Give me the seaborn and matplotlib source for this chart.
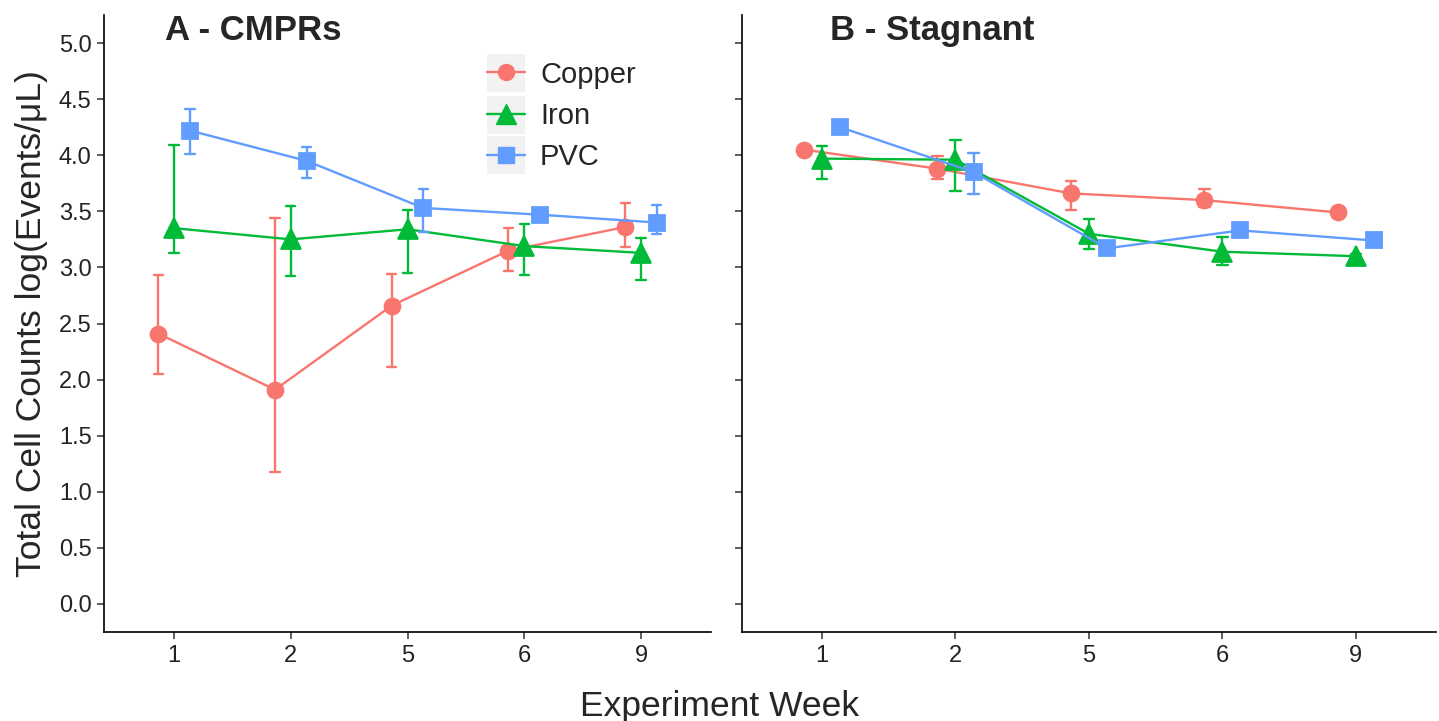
import pandas as pd
import numpy as np
import matplotlib
matplotlib.use("Agg")
import matplotlib.pyplot as plt
from matplotlib.patches import Rectangle
from matplotlib.lines import Line2D
import seaborn as sns

# weeks shown on the x axis (categorical)
weeks = ["1", "2", "5", "6", "9"]
materials = ["Copper", "Iron", "PVC"]
palette = {"Copper": "#F8766D", "Iron": "#00BA38", "PVC": "#619CFF"}

# A - CMPRs : mean, lower and upper error values
cmpr_copper = [2.41, 1.91, 2.66, 3.15, 3.36]
cmpr_copper_lo = [2.05, 1.18, 2.11, 2.97, 3.18]
cmpr_copper_hi = [2.93, 3.44, 2.94, 3.35, 3.57]
cmpr_iron = [3.35, 3.25, 3.34, 3.19, 3.13]
cmpr_iron_lo = [3.13, 2.92, 2.95, 2.93, 2.89]
cmpr_iron_hi = [4.09, 3.55, 3.51, 3.39, 3.26]
cmpr_pvc = [4.22, 3.95, 3.53, 3.47, 3.40]
cmpr_pvc_lo = [4.01, 3.80, 3.32, 3.45, 3.30]
cmpr_pvc_hi = [4.41, 4.07, 3.70, 3.49, 3.56]

# B - Stagnant
stag_copper = [4.05, 3.88, 3.66, 3.60, 3.49]
stag_copper_lo = [4.03, 3.79, 3.51, 3.54, 3.45]
stag_copper_hi = [4.07, 3.99, 3.77, 3.70, 3.53]
stag_iron = [3.97, 3.96, 3.30, 3.14, 3.10]
stag_iron_lo = [3.79, 3.68, 3.16, 3.02, 3.08]
stag_iron_hi = [4.08, 4.14, 3.43, 3.27, 3.12]
stag_pvc = [4.25, 3.85, 3.17, 3.33, 3.24]
stag_pvc_lo = [4.23, 3.65, 3.15, 3.31, 3.22]
stag_pvc_hi = [4.27, 4.02, 3.19, 3.35, 3.26]


def make_df(series):
    # three rows per point: lower, mean, upper -> median gives the mean, min/max the bars
    rows = []
    for mat, (mid, lo, hi) in series.items():
        for w, m, l, h in zip(weeks, mid, lo, hi):
            for v in (l, m, h):
                rows.append({"week": w, "material": mat, "value": v})
    return pd.DataFrame(rows)


df_a = make_df({"Copper": (cmpr_copper, cmpr_copper_lo, cmpr_copper_hi),
                "Iron": (cmpr_iron, cmpr_iron_lo, cmpr_iron_hi),
                "PVC": (cmpr_pvc, cmpr_pvc_lo, cmpr_pvc_hi)})
df_b = make_df({"Copper": (stag_copper, stag_copper_lo, stag_copper_hi),
                "Iron": (stag_iron, stag_iron_lo, stag_iron_hi),
                "PVC": (stag_pvc, stag_pvc_lo, stag_pvc_hi)})

sns.set_style("white")
plt.rcParams["font.family"] = ["Liberation Sans", "DejaVu Sans"]

fig = plt.figure(figsize=(14.39, 7.21), dpi=100)
ax_a = fig.add_axes([0.0723, 0.1234, 0.4218, 0.8558])
ax_b = fig.add_axes([0.5156, 0.1234, 0.4823, 0.8558])


def draw(ax, df):
    sns.pointplot(data=df, x="week", y="value", hue="material", order=weeks,
                  hue_order=materials, palette=palette, markers=["o", "^", "s"],
                  linestyles="-", estimator="median",
                  errorbar=lambda v: (v.min(), v.max()),
                  dodge=0.27, capsize=0.08, linewidth=1.7,
                  err_kws={"linewidth": 1.7}, markersize=11.5, ax=ax)
    for ln in ax.lines:
        if ln.get_marker() == "^":
            ln.set_markersize(14.5)
    ax.set_ylim(-0.25, 5.25)
    ax.set_xlim(-0.6, 4.6)
    ax.set_yticks(np.arange(0, 5.01, 0.5))
    ax.set_xlabel("")
    ax.set_ylabel("")
    for s in ["top", "right"]:
        ax.spines[s].set_visible(False)
    for s in ["left", "bottom"]:
        ax.spines[s].set_color("black")
        ax.spines[s].set_linewidth(1.2)
    ax.tick_params(axis="both", length=5, width=1.1, color="#333333",
                   labelsize=17, labelcolor="#222222", pad=4, left=True, bottom=True)
    ax.get_legend().remove()


draw(ax_a, df_a)
draw(ax_b, df_b)
ax_a.set_yticklabels([f"{t:.1f}" for t in np.arange(0, 5.01, 0.5)])
ax_b.set_yticklabels([])

ax_a.text(0.10, 0.975, "A - CMPRs", transform=ax_a.transAxes, fontsize=25,
          fontweight="bold", va="center", ha="left")
ax_b.text(0.127, 0.975, "B - Stagnant", transform=ax_b.transAxes, fontsize=25,
          fontweight="bold", va="center", ha="left")

ax_a.set_ylabel("Total Cell Counts log(Events/\u03bcL)", fontsize=25.5, labelpad=8)
fig.text(0.5, 0.02, "Experiment Week", fontsize=25.5, ha="center", va="center")

# legend with grey key boxes
for yb in [0.875, 0.807, 0.742]:
    ax_a.add_patch(Rectangle((0.631, yb), 0.063, 0.0616, transform=ax_a.transAxes,
                             facecolor="#F2F2F2", edgecolor="none", zorder=0))
leg_handles = [Line2D([], [], color=palette[m], marker=mk, markersize=ms, linewidth=1.7)
               for m, mk, ms in zip(materials, ["o", "^", "s"], [11.5, 14.5, 11.5])]
ax_a.legend(leg_handles, materials, loc="upper left", bbox_to_anchor=(0.631, 0.926),
            frameon=False, fontsize=21, handlelength=1.3, handletextpad=0.52,
            labelspacing=0.45, borderpad=0, borderaxespad=0)

fig.savefig("out.png", dpi=100)
